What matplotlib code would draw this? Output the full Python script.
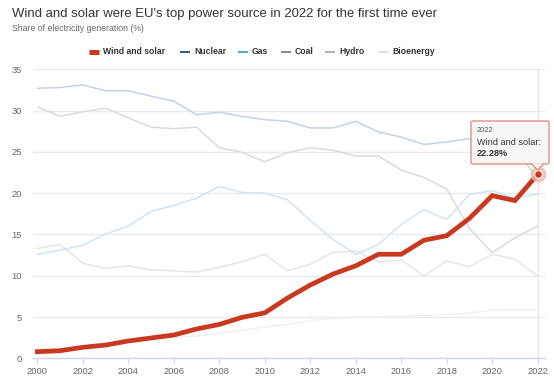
import matplotlib
matplotlib.use("Agg")
import matplotlib.pyplot as plt
from matplotlib.patches import FancyBboxPatch, Polygon

plt.rcParams["font.family"] = ["Liberation Sans", "DejaVu Sans"]

years = list(range(2000, 2023))
wind_solar = [0.8, 0.92, 1.33, 1.6, 2.1, 2.46, 2.82, 3.55, 4.1, 4.96, 5.5, 7.3, 8.87, 10.2, 11.2, 12.6, 12.6, 14.3, 14.85, 16.95, 19.7, 19.1, 22.28]
nuclear = [32.7, 32.8, 33.1, 32.4, 32.4, 31.75, 31.15, 29.5, 29.8, 29.3, 28.9, 28.7, 27.9, 27.9, 28.7, 27.4, 26.8, 25.9, 26.2, 26.6, 24.7, 25.3, 21.8]
gas = [12.6, 13.1, 13.7, 15.05, 16.0, 17.8, 18.5, 19.4, 20.8, 20.1, 20.0, 19.2, 16.7, 14.4, 12.6, 13.8, 16.2, 18.0, 16.8, 19.85, 20.3, 19.4, 19.9]
coal = [30.46, 29.3, 29.85, 30.3, 29.1, 28.0, 27.8, 28.0, 25.5, 24.95, 23.8, 24.9, 25.5, 25.2, 24.5, 24.5, 22.8, 21.9, 20.5, 15.7, 12.8, 14.6, 16.0]
hydro = [13.3, 13.8, 11.5, 10.9, 11.2, 10.7, 10.6, 10.45, 11.0, 11.7, 12.6, 10.6, 11.4, 12.8, 13.0, 11.7, 11.9, 10.0, 11.8, 11.1, 12.6, 12.0, 10.0]
bioenergy = [1.1, 1.2, 1.4, 1.6, 1.9, 2.2, 2.5, 2.7, 3.0, 3.4, 3.8, 4.1, 4.6, 4.8, 5.0, 5.0, 5.1, 5.2, 5.3, 5.5, 5.8, 5.9, 5.9]

series_names = ["Wind and solar", "Nuclear", "Gas", "Coal", "Hydro", "Bioenergy"]
legend_colors = ["#c8391f", "#1f4e7a", "#3d9fe0", "#808080", "#aaaaaa", "#dddddd"]
faded_colors = [None, "#c3d3e3", "#cfe5f6", "#dadada", "#e6e6e6", "#f1f1f1"]
y_ticks = [0, 5, 10, 15, 20, 25, 30, 35]
x_ticks = list(range(2000, 2023, 2))
title = "Wind and solar were EU's top power source in 2022 for the first time ever"
subtitle = "Share of electricity generation (%)"

W, H = 554, 376
fig = plt.figure(figsize=(W / 100, H / 100), dpi=100)
renderer = fig.canvas.get_renderer()


def fit_size(text, width_px, weight="normal", base=10.0):
    t = fig.text(0, 0, text, fontsize=base, fontweight=weight)
    w = t.get_window_extent(renderer).width
    t.remove()
    return base * width_px / w


ax = fig.add_axes([33 / W, (H - 358.3) / H, (545 - 33) / W, (358.3 - 69.3) / H])
ax.set_xlim(2000 - 4.3 / 22.75, 2022 + 7.3 / 22.75)
ax.set_ylim(0, 35)

for y in y_ticks:
    if y > 0:
        ax.axhline(y, color="#ebebeb", lw=1.0, zorder=0)

ax.axvline(2022, color="#e8e8e8", lw=1.0, zorder=1)

data = [wind_solar, nuclear, gas, coal, hydro, bioenergy]
for i in range(5, 0, -1):
    ax.plot(years, data[i], color=faded_colors[i], lw=1.1, zorder=2, solid_capstyle="round")
ax.plot(years, wind_solar, color=legend_colors[0], lw=3.4, zorder=4, solid_joinstyle="miter")

ax.scatter([years[-1]], [wind_solar[-1]], s=130, color="#f0b5a9", alpha=0.8, zorder=5, linewidths=0)
ax.scatter([years[-1]], [wind_solar[-1]], s=30, color=legend_colors[0], zorder=6, edgecolors="white", linewidths=0.8)

for s in ["top", "right", "left"]:
    ax.spines[s].set_visible(False)
ax.spines["bottom"].set_color("#ccd6eb")
ax.spines["bottom"].set_linewidth(1.0)

tick_fs = fit_size("2000", 21)
ax.set_yticks(y_ticks)
ax.set_yticklabels([str(v) for v in y_ticks])
ax.set_xticks(x_ticks)
ax.set_xticklabels([str(v) for v in x_ticks])
ax.tick_params(axis="y", length=0, pad=8, labelsize=tick_fs, labelcolor="#666666")
ax.tick_params(axis="x", length=4, color="#ccd6eb", pad=2, labelsize=tick_fs, labelcolor="#666666")

# Title and subtitle
fig.text(12 / W, 1 - 14 / H, title, fontsize=fit_size(title, 428), color="#333333", va="center", ha="left")
fig.text(12 / W, 1 - 28.5 / H, subtitle, fontsize=fit_size(subtitle, 132), color="#666666", va="center", ha="left")

# Legend
leg_fs = fit_size(series_names[0], 62, "bold")
sym_x = [89, 180, 238, 281, 325, 378]
for i, name in enumerate(series_names):
    x0 = sym_x[i]
    yl = 1 - 52 / H
    lw = 3.6 if i == 0 else 1.3
    fig.add_artist(plt.Line2D([x0 / W, (x0 + 10) / W], [yl, yl], color=legend_colors[i], lw=lw, solid_capstyle="butt"))
    fig.text((x0 + 14) / W, yl, name, fontsize=leg_fs, fontweight="bold", color="#333333", va="center", ha="left")

# Tooltip
bx0, bx1, by0, by1 = 471, 549, 121, 164
tip = FancyBboxPatch((bx0 / W, 1 - by1 / H), (bx1 - bx0) / W, (by1 - by0) / H,
                     boxstyle="round,pad=0,rounding_size=0.004", transform=fig.transFigure,
                     facecolor="#f7f7f7", edgecolor="#e08a7b", lw=1.0, alpha=0.95, zorder=10)
fig.add_artist(tip)
ptr = Polygon([[531 / W, 1 - 163.5 / H], [537.7 / W, 1 - 170 / H], [544 / W, 1 - 163.5 / H]],
              closed=False, transform=fig.transFigure, facecolor="#f7f7f7", edgecolor="#e08a7b", lw=1.0, zorder=11)
fig.add_artist(ptr)
tt_fs = fit_size(series_names[0] + ":", 64)
fig.text(477 / W, 1 - 131 / H, str(years[-1]), fontsize=fit_size("2022", 17), color="#555555", va="center", ha="left", zorder=12)
fig.text(477 / W, 1 - 142.5 / H, series_names[0] + ":", fontsize=tt_fs, color="#333333", va="center", ha="left", zorder=12)
fig.text(477 / W, 1 - 154 / H, f"{wind_solar[-1]:.2f}%", fontsize=tt_fs, fontweight="bold", color="#333333", va="center", ha="left", zorder=12)

fig.savefig("out.png", dpi=100)
